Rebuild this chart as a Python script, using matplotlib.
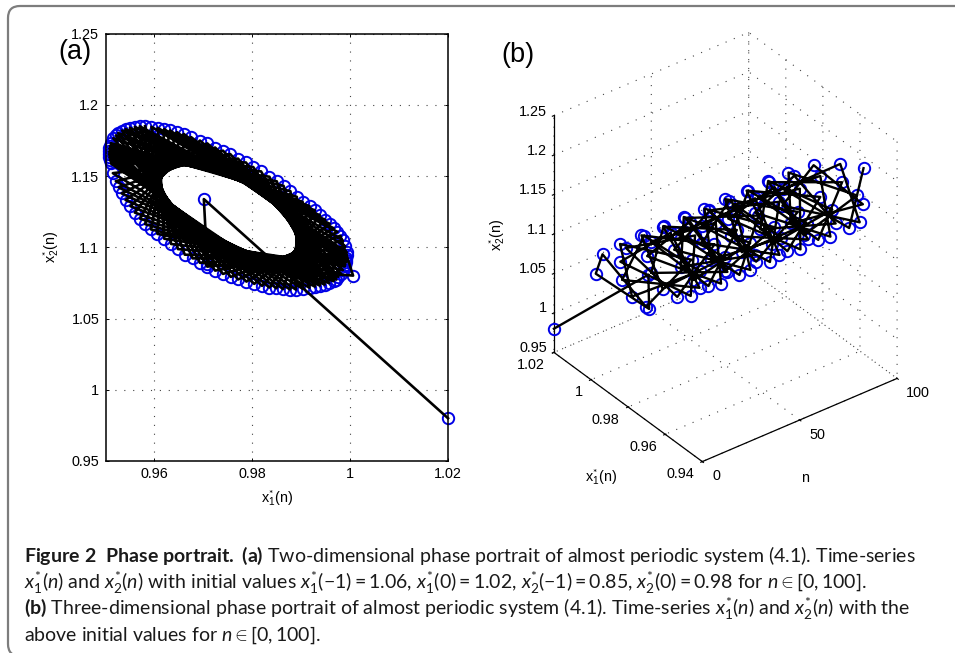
import matplotlib
matplotlib.use("Agg")
import matplotlib.pyplot as plt
from matplotlib.patches import FancyBboxPatch
from mpl_toolkits.mplot3d import Axes3D

plt.rcParams['font.family'] = ['Liberation Sans', 'DejaVu Sans']
plt.rcParams['mathtext.fontset'] = 'custom'
plt.rcParams['mathtext.rm'] = 'Lato'
plt.rcParams['mathtext.it'] = 'Lato:italic'
plt.rcParams['mathtext.bf'] = 'Lato:bold'

# series, n = 0..100
x1 = [1.02, .9701, .9708, 1.0006,
      .9980, .9756, .9521, .9917, .9863, .9508, .9818, .9948, .9541, .9708,
      .9989, .9620, .9607, .9990, .9724, .9534, .9938, .9835, .9507, .9850,
      .9928, .9527, .9740, .9981, .9593, .9632, .9993, .9693, .9550, .9958,
      .9804, .9509, .9878, .9904, .9515, .9771, .9972, .9571, .9660, .9992,
      .9662, .9570, .9974, .9771, .9516, .9903, .9877, .9509, .9802, .9957,
      .9551, .9693, .9990, .9634, .9594, .9985, .9740, .9526, .9928, .9849,
      .9507, .9835, .9938, .9533, .9724, .9985, .9606, .9620, .9993, .9708,
      .9541, .9949, .9820, .9508, .9864, .9917, .9521, .9755, .9976, .9581,
      .9646, .9992, .9678, .9560, .9966, .9788, .9511, .9891, .9889, .9511,
      .9787, .9966, .9560, .9675, .9992, .9648, .9581]
x2 = [.98, 1.1338, 1.0880, 1.0801,
      1.1081, 1.0792, 1.1785, 1.1289, 1.0706, 1.1632, 1.1532, 1.0738, 1.1331, 1.1729,
      1.0866, 1.1060, 1.1838, 1.1006, 1.0836, 1.1819, 1.1225, 1.0717, 1.1672, 1.1463,
      1.0724, 1.1420, 1.1678, 1.0815, 1.1125, 1.1820, 1.0945, 1.0891, 1.1838, 1.1165,
      1.0743, 1.1712, 1.1393, 1.0707, 1.1520, 1.1622, 1.0773, 1.1200, 1.1795, 1.0913,
      1.0948, 1.1849, 1.1108, 1.0774, 1.1764, 1.1318, 1.0703, 1.1610, 1.1563, 1.0748,
      1.1288, 1.1749, 1.0878, 1.1023, 1.1845, 1.1048, 1.0813, 1.1802, 1.1259, 1.0712,
      1.1652, 1.1495, 1.0731, 1.1378, 1.1700, 1.0840, 1.1094, 1.1829, 1.0965, 1.0864,
      1.1829, 1.1193, 1.0729, 1.1693, 1.1431, 1.0716, 1.1464, 1.1654, 1.0793, 1.1162,
      1.1808, 1.0928, 1.0922, 1.1845, 1.1134, 1.0759, 1.1731, 1.1354, 1.0703, 1.1588,
      1.1595, 1.0762, 1.1243, 1.1773, 1.0895, 1.0987, 1.1850]
n = list(range(101))

x1_ticks = [0.96, 0.98, 1, 1.02]
x1_labels = ['0.96', '0.98', '1', '1.02']
x1_ticks_3d = [0.94, 0.96, 0.98, 1, 1.02]
x1_labels_3d = ['0.94', '0.96', '0.98', '1', '1.02']
x2_ticks = [0.95, 1, 1.05, 1.1, 1.15, 1.2, 1.25]
x2_labels = ['0.95', '1', '1.05', '1.1', '1.15', '1.2', '1.25']
n_ticks = [0, 50, 100]
n_labels = ['0', '50', '100']

caption = [
    r"$\mathbf{Figure\ 2\ \ Phase\ portrait.\ (a)}$ Two-dimensional phase portrait of almost periodic system (4.1). Time-series",
    r"$x_1^{*}(n)$ and $x_2^{*}(n)$ with initial values $x_1^{*}(-1) = 1.06$, $x_1^{*}(0) = 1.02$, $x_2^{*}(-1) = 0.85$, $x_2^{*}(0) = 0.98$ for $n \in [0, 100]$.",
    r"$\mathbf{(b)}$ Three-dimensional phase portrait of almost periodic system (4.1). Time-series $x_1^{*}(n)$ and $x_2^{*}(n)$ with the",
    r"above initial values for $n \in [0, 100]$.",
]
caption_y = [556, 583, 609, 635]

W, H = 955, 653
dots = (0, (1, 7))
fig = plt.figure(figsize=(W / 100, H / 100), dpi=100)


def fx(px):
    return px / W


def fy(py):
    return 1 - py / H


# frame behind everything
bg = fig.add_axes([0, 0, 1, 1])
bg.set_xlim(0, W)
bg.set_ylim(H, 0)
bg.axis('off')
bg.add_patch(FancyBboxPatch((8, 6), 1100, 650, boxstyle="round,pad=0,rounding_size=12",
                            fc='white', ec='#7d7d7d', lw=1.6))

# panel a
ax = fig.add_axes([fx(105.5), fy(461), (448 - 105.5) / W, (461 - 33.5) / H])
ax.plot(x1, x2, 'o', mfc='none', mec='#0000e6', mew=1.4, ms=8.2, zorder=2, clip_on=False)
ax.plot(x1, x2, '-', color='k', lw=1.9, zorder=3, clip_on=False)
ax.set_xlim(0.95, 1.02)
ax.set_ylim(0.95, 1.25)
ax.set_xticks(x1_ticks, x1_labels)
ax.set_yticks(x2_ticks, x2_labels)
ax.tick_params(direction='in', length=2.5, width=0.7, top=True, right=True, labelsize=10.4, pad=4.5)
ax.grid(True, color='#444444', lw=0.8, linestyle=dots)
ax.set_axisbelow(True)
for s in ax.spines.values():
    s.set_linewidth(1.1)

# panel b
S = 520
ax3 = fig.add_axes([fx(725.5 - 0.5135 * S), (H - 247 - 0.5135 * S) / H, S / W, S / H],
                   projection='3d', proj_type='ortho', facecolor='none')
ax3.set_box_aspect((244, 244, 285), zoom=436 / S)
ax3.view_init(elev=34.1, azim=-127.3)
ax3.plot(n, x1, x2, 'o', mfc='none', mec='#0000e6', mew=1.4, ms=8.2)
ax3.plot(n, x1, x2, '-', color='k', lw=1.7)
ax3.set_xlim(0, 100, view_margin=0)
ax3.set_ylim(0.94, 1.02, view_margin=0)
ax3.set_zlim(0.95, 1.25, view_margin=0)
ax3.set_xticks(n_ticks, [''] * len(n_ticks))
ax3.set_yticks(x1_ticks_3d, [''] * len(x1_ticks_3d))
ax3.set_zticks(x2_ticks, [''] * len(x2_ticks))
for a in (ax3.xaxis, ax3.yaxis, ax3.zaxis):
    a.set_pane_color((1, 1, 1, 0))
    a.pane.set_edgecolor('none')
    a._axinfo['grid'].update(color='#444444', linewidth=0.8, linestyle=dots)
    a._axinfo['tick'].update(inward_factor=0.1, outward_factor=0.04)
    a.line.set_linewidth(0.9)

# tick labels of panel b sit where the reference has them
tick = dict(fontsize=10.4, va='center', color='k')
for lbl, px, py in zip(x2_labels, [547] * 7, [347.7, 308, 269, 229.7, 190, 151, 112]):
    fig.text(fx(px), fy(py), lbl, ha='right', **tick)
for lbl, px, py in zip(x1_labels_3d, [680, 643, 605, 579, 531], [474, 447, 420, 392, 365]):
    fig.text(fx(px), fy(py), lbl, ha='center', **tick)
for lbl, px, py in zip(n_labels, [716, 817, 918], [476, 435, 393]):
    fig.text(fx(px), fy(py), lbl, ha='center', **tick)

# labels
lab = dict(fontsize=10.4, ha='center', va='center', color='k')
xlab1 = r"$\mathregular{x}_{\mathregular{1}}^{*}\mathregular{(n)}$"
xlab2 = r"$\mathregular{x}_{\mathregular{2}}^{*}\mathregular{(n)}$"
fig.text(fx(277), fy(498), xlab1, **lab)
fig.text(fx(51), fy(247), xlab2, rotation=90, **lab)
fig.text(fx(497), fy(235), xlab2, rotation=90, **lab)
fig.text(fx(601), fy(477), xlab1, **lab)
fig.text(fx(805), fy(478), 'n', **lab)
fig.text(fx(75), fy(52), '(a)', fontsize=19.5, ha='center', va='center')
fig.text(fx(518), fy(55), '(b)', fontsize=19.5, ha='center', va='center')

# caption
for line, y in zip(caption, caption_y):
    fig.text(fx(24), fy(y), line, family='Lato', fontsize=14, color='#1a1a1a', ha='left', va='center')

fig.savefig('out.png', dpi=100)
